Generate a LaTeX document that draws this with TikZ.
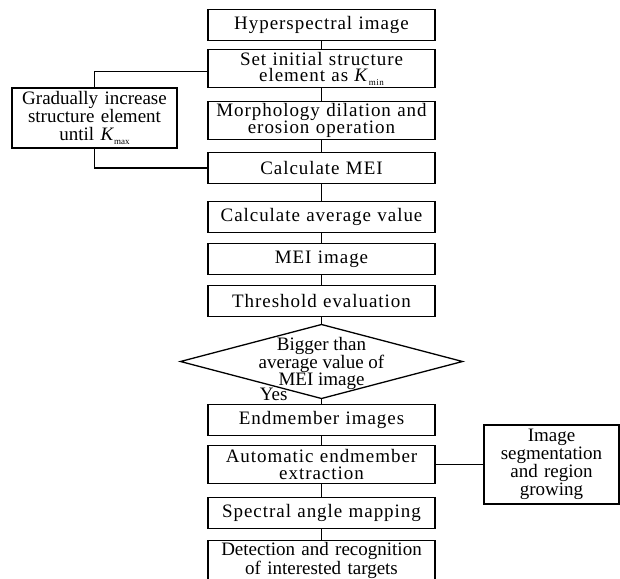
\documentclass[tikz,border=0pt]{standalone}
\usepackage{fontspec}
\setmainfont{Liberation Serif}
\newfontfamily\spacedfont[LetterSpace=5]{Liberation Serif}
\usepackage{tikz}
\usetikzlibrary{positioning,shapes.geometric}
\newcommand{\Kval}[1]{\textit{K}\raisebox{-3.5pt}{\fontsize{9}{9}\selectfont #1}}

\begin{document}
\begin{tikzpicture}[x=1pt, y=1pt, line width=1.3pt,
    every node/.style={font=\fontsize{19}{18}\selectfont, outer sep=0pt},
    flowbox/.style={draw, text width=223pt, inner xsep=2pt, inner ysep=1pt,
          minimum height=31pt, align=center, font=\fontsize{19}{16.5}\selectfont\spacedfont},
    tallbox/.style={flowbox, minimum height=38pt},
    sidebox/.style={draw, inner xsep=2pt, inner ysep=1pt, align=center}]
  \fill[white] (0,0) rectangle (620,-578);
  \clip (0,0) rectangle (620,-578);
  % main column
  \node[flowbox] (hyp) at (321.5,-25) {Hyperspectral image};
  \node[tallbox, below=9pt of hyp] (init) {Set initial structure\\ element as \Kval{min}};
  \node[tallbox, below=14pt of init] (morph) {Morphology dilation and\\ erosion operation};
  \node[flowbox, below=13pt of morph] (mei) {Calculate MEI};
  \node[flowbox, below=18pt of mei] (avg) {Calculate average value};
  \node[flowbox, below=11pt of avg] (meiimg) {MEI image};
  \node[flowbox, below=11pt of meiimg] (thr) {Threshold evaluation};
  \node[draw, diamond, minimum width=282pt, minimum height=74pt, inner sep=0pt,
        below=8pt of thr] (dec) {};
  \node[align=center, font=\fontsize{19}{17.5}\selectfont, yshift=-2pt] (dectext) at (dec)
    {Bigger than\\ average value of\\ MEI image};
  \node[anchor=base east, inner sep=0pt] (yes) at ([xshift=-34pt, yshift=-2pt]dec.south) {Yes};
  \node[flowbox, below=6pt of dec] (endimg) {Endmember images};
  \node[tallbox, below=10pt of endimg] (extr) {Automatic endmember\\ extraction};
  \node[flowbox, below=14pt of extr] (sam) {Spectral angle mapping};
  \node[flowbox, minimum height=0pt, inner ysep=2pt, below=12pt of sam,
        font=\fontsize{19}{16.5}\selectfont] (det) {Detection and recognition\\ of interested targets};
  % side boxes
  \node[sidebox, text width=161pt, minimum height=60pt, left=31pt of morph, yshift=2.5pt] (grow)
    {Gradually increase\\ structure element\\ until \Kval{max}};
  \node[sidebox, text width=131pt, minimum height=79pt, right=49pt of extr] (seg)
    {Image\\ segmentation\\ and region\\ growing};
  % connectors
  \draw (hyp) -- (init);
  \draw (init) -- (morph);
  \draw (morph) -- (mei);
  \draw (mei) -- (avg);
  \draw (avg) -- (meiimg);
  \draw (meiimg) -- (thr);
  \draw (thr) -- (dec);
  \draw (dec) -- (endimg);
  \draw (endimg) -- (extr);
  \draw (extr) -- (sam);
  \draw (sam) -- (det);
  \draw ([yshift=-3pt]init.west) -| (grow.north);
  \draw (grow.south) |- (mei.west);
  \draw (extr) -- (seg);
\end{tikzpicture}
\end{document}
